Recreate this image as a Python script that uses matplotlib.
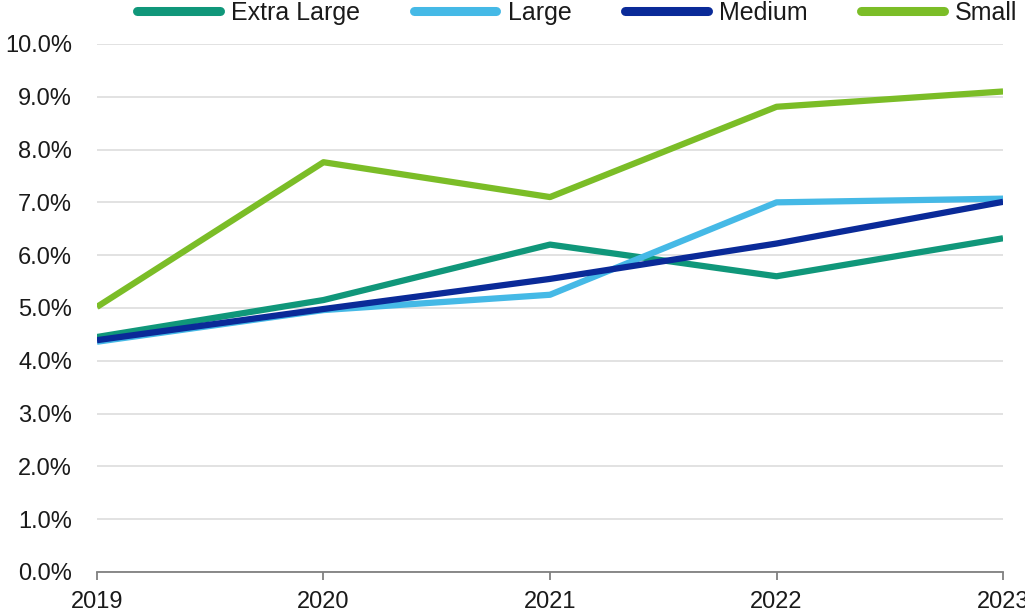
import matplotlib.pyplot as plt
import matplotlib.ticker as mtick

plt.rcParams['font.family'] = ['Liberation Sans', 'DejaVu Sans']

years = [2019, 2020, 2021, 2022, 2023]
extra_large = [4.45, 5.15, 6.2, 5.6, 6.32]
large = [4.36, 4.96, 5.25, 7.0, 7.07]
medium = [4.39, 4.98, 5.55, 6.22, 7.01]
small = [5.02, 7.76, 7.1, 8.81, 9.1]

labels = ["Extra Large", "Large", "Medium", "Small"]
colors = ["#10977A", "#45B9E6", "#0A2A98", "#7BBD27"]

fig = plt.figure(figsize=(10.25, 6.12), dpi=100)
ax = fig.add_axes([0.0946, 0.0654, 0.884, 0.8628])

for vals, lab, col in zip([extra_large, large, medium, small], labels, colors):
    ax.plot(years, vals, color=col, lw=4.5, label=lab, solid_capstyle='butt')

ax.set_xlim(2019, 2023)
ax.set_ylim(0, 10)
ax.set_yticks(range(0, 11))
ax.yaxis.set_major_formatter(mtick.FuncFormatter(lambda v, p: f"{v:.1f}%"))
ax.set_xticks(years)
ax.grid(axis='y', color='#DDDDDD', lw=1.2)
ax.set_axisbelow(True)
for s in ['top', 'right', 'left']:
    ax.spines[s].set_visible(False)
ax.spines['bottom'].set_color('#808080')
ax.spines['bottom'].set_linewidth(1.3)
ax.tick_params(axis='y', length=0, labelsize=17, pad=18, labelcolor='#1a1a1a')
ax.tick_params(axis='x', length=6, width=1.3, color='#808080', labelsize=17, pad=8,
               labelcolor='#1a1a1a')

leg = fig.legend(loc='center left', bbox_to_anchor=(0.134, 0.979), ncol=4, frameon=False,
                 fontsize=18, handlelength=3.3, handletextpad=0.45, columnspacing=2.15,
                 borderpad=0, borderaxespad=0)
for ln in leg.get_lines():
    ln.set_linewidth(6.5)
    ln.set_solid_capstyle('round')
for t in leg.get_texts():
    t.set_color('#1a1a1a')

fig.savefig("out.png", dpi=100)
